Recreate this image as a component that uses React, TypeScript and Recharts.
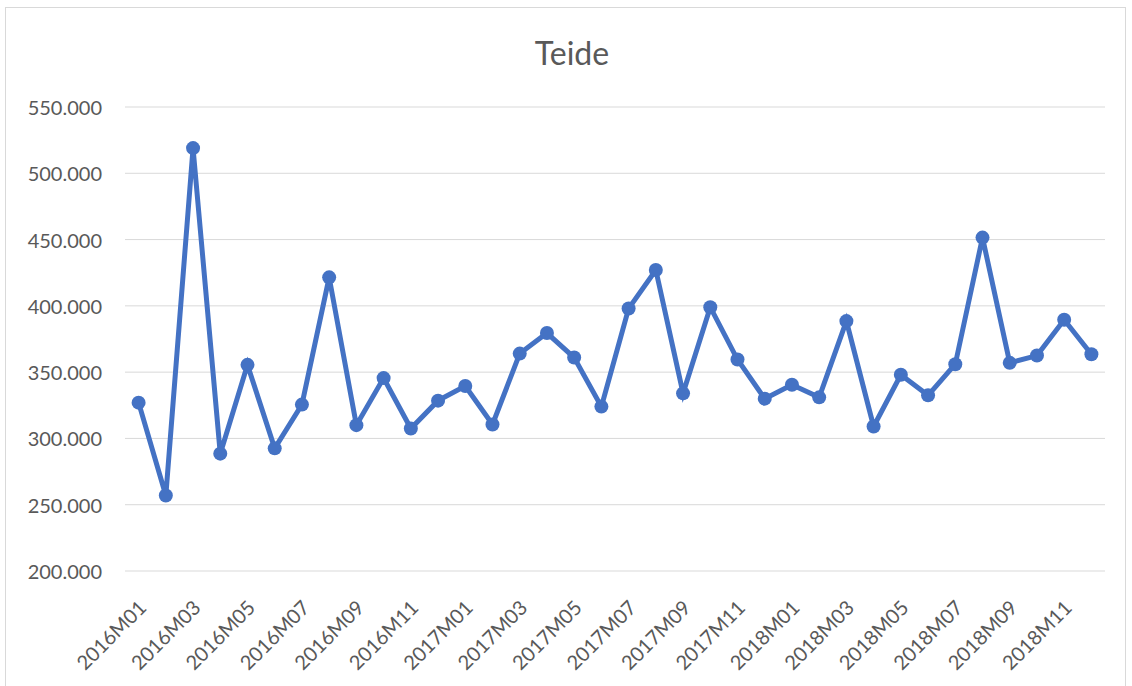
import { LineChart, Line, XAxis, YAxis, CartesianGrid } from "recharts";

// months 2016M01 .. 2018M12
const months = [
  "2016M01", "2016M02", "2016M03", "2016M04", "2016M05", "2016M06",
  "2016M07", "2016M08", "2016M09", "2016M10", "2016M11", "2016M12",
  "2017M01", "2017M02", "2017M03", "2017M04", "2017M05", "2017M06",
  "2017M07", "2017M08", "2017M09", "2017M10", "2017M11", "2017M12",
  "2018M01", "2018M02", "2018M03", "2018M04", "2018M05", "2018M06",
  "2018M07", "2018M08", "2018M09", "2018M10", "2018M11", "2018M12",
];

// visitors
const visitors = [
  327000, 257000, 519000, 288500, 355500, 292500,
  325500, 421500, 310000, 345500, 307500, 328500,
  339500, 310500, 364000, 379500, 361000, 324000,
  398000, 427000, 334000, 399000, 359500, 330000,
  340500, 331000, 388500, 309000, 348000, 332500,
  356000, 451500, 357000, 362500, 389500, 363500,
];

const yTicks = [200000, 250000, 300000, 350000, 400000, 450000, 500000, 550000];

const data = months.map((m, i) => ({ month: m, value: visitors[i] }));

const FONT = "Lato, 'Open Sans', sans-serif";
const GREY = "#595959";
const BLUE = "#4472C4";

// 550000 -> "550.000"
const fmt = (v: number) => (v / 1000).toFixed(3);

function XTick(props: any) {
  const { x, y, payload } = props;
  return (
    <text
      transform={`translate(${x + 9},${y + 38}) rotate(-45)`}
      textAnchor="end"
      fill={GREY}
      fontSize={20}
      fontFamily={FONT}
    >
      {payload.value}
    </text>
  );
}

function YTick(props: any) {
  const { x, y, payload } = props;
  return (
    <text x={x - 23} y={y} textAnchor="end" dominantBaseline="central" fill={GREY} fontSize={20} fontFamily={FONT}>
      {fmt(payload.value)}
    </text>
  );
}

export default function App() {
  return (
    <div style={{ position: "absolute", left: 0, top: 0, width: 1132, height: 686, background: "#fff" }}>
      <div
        style={{
          position: "absolute",
          left: 5,
          top: 7,
          width: 1121,
          height: 680,
          border: "1px solid #d9d9d9",
          boxSizing: "border-box",
        }}
      />
      <div
        style={{
          position: "absolute",
          left: 0,
          width: 1144,
          top: 37,
          textAlign: "center",
          fontFamily: FONT,
          fontSize: 32,
          lineHeight: "32px",
          color: GREY,
        }}
      >
        Teide
      </div>
      <div style={{ position: "absolute", left: 0, top: 0 }}>
        <LineChart width={1132} height={686} data={data} margin={{ top: 107, right: 27, bottom: 0, left: 0 }}>
          <CartesianGrid vertical={false} stroke="#d9d9d9" strokeWidth={1} />
          <XAxis
            dataKey="month"
            interval={1}
            tickLine={false}
            axisLine={false}
            tickSize={0}
            tickMargin={0}
            height={115}
            padding={{ left: 13.6, right: 13.6 }}
            tick={<XTick />}
          />
          <YAxis
            domain={[200000, 550000]}
            ticks={yTicks}
            width={125}
            tickLine={false}
            axisLine={false}
            tickSize={0}
            tickMargin={0}
            tick={<YTick />}
          />
          <Line
            type="linear"
            dataKey="value"
            stroke={BLUE}
            strokeWidth={5}
            dot={{ r: 7, fill: BLUE, stroke: BLUE, strokeWidth: 0 }}
            isAnimationActive={false}
          />
        </LineChart>
      </div>
    </div>
  );
}
